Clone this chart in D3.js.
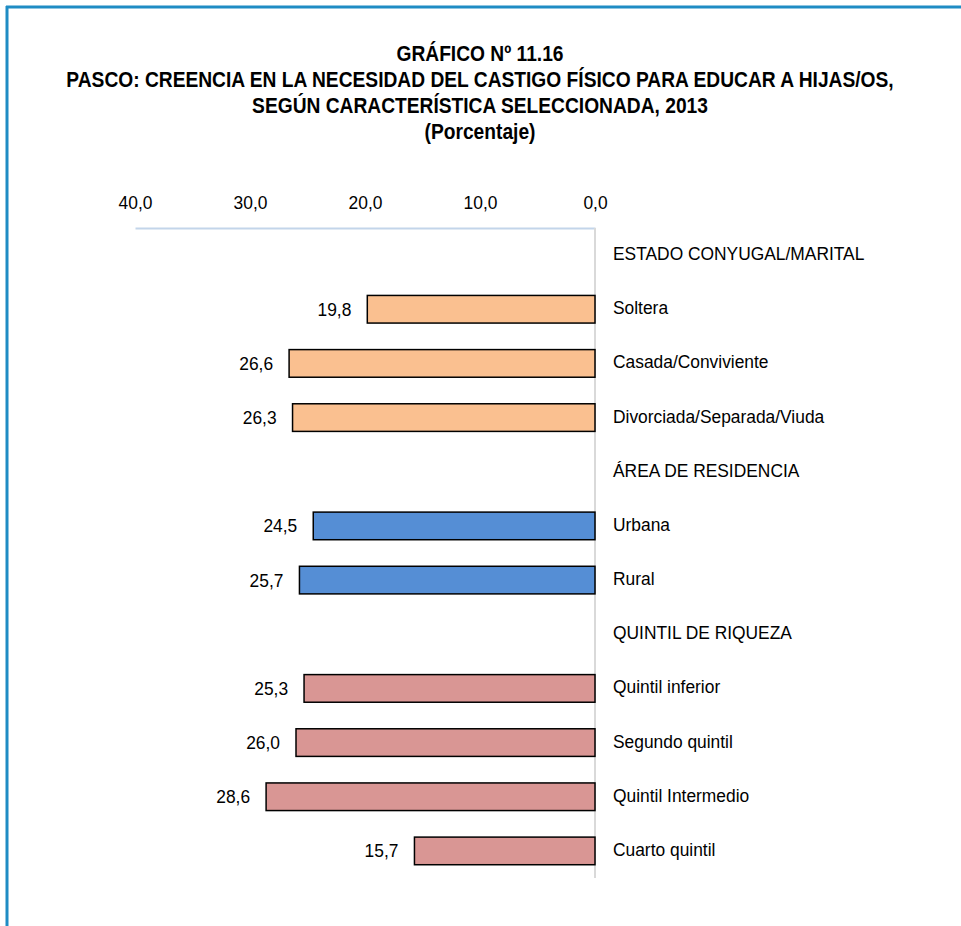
<!DOCTYPE html>
<html>
<head>
<meta charset="utf-8">
<script src="https://cdn.jsdelivr.net/npm/d3@7"></script>
<style>
  html, body { margin: 0; padding: 0; background: #fff; }
  svg { display: block; }
  text { font-family: "Liberation Sans", Arial, sans-serif; fill: #000; }
</style>
</head>
<body>
<script>
const titleLines = [
  "GRÁFICO Nº 11.16",
  "PASCO: CREENCIA EN LA NECESIDAD DEL CASTIGO FÍSICO PARA EDUCAR A HIJAS/OS,",
  "SEGÚN CARACTERÍSTICA SELECCIONADA, 2013",
  "(Porcentaje)"
];
const categories = [
  "ESTADO CONYUGAL/MARITAL", "Soltera", "Casada/Conviviente", "Divorciada/Separada/Viuda",
  "ÁREA DE RESIDENCIA", "Urbana", "Rural",
  "QUINTIL DE RIQUEZA", "Quintil inferior", "Segundo quintil", "Quintil Intermedio", "Cuarto quintil"
];
const values = [null, 19.8, 26.6, 26.3, null, 24.5, 25.7, null, 25.3, 26.0, 28.6, 15.7];
const groups = [null, "estado", "estado", "estado", null, "area", "area", null, "quintil", "quintil", "quintil", "quintil"];
const tickValues = [40, 30, 20, 10, 0];
const groupColors = { estado: "#fac090", area: "#558ed5", quintil: "#d99694" };

const W = 961, H = 926;
const TS = 0.873;  // title horizontal condensing
const LS = 0.94;   // label horizontal condensing
const svg = d3.select("body").append("svg").attr("width", W).attr("height", H);

// frame
svg.append("line").attr("x1", 7).attr("x2", 7).attr("y1", 6).attr("y2", H)
  .attr("stroke", "#1f8cc4").attr("stroke-width", 3);
svg.append("line").attr("x1", 6).attr("x2", W).attr("y1", 7).attr("y2", 7)
  .attr("stroke", "#1f8cc4").attr("stroke-width", 3);

// title
const titleY = [61, 87, 113, 139];
svg.selectAll("text.title").data(titleLines).join("text")
  .attr("class", "title")
  .attr("transform", (d, i) => `translate(480,${titleY[i]}) scale(${TS},1)`)
  .attr("text-anchor", "middle")
  .attr("font-weight", "bold")
  .attr("font-size", 22)
  .text(d => d);

const x = d3.scaleLinear().domain([0, 40]).range([595, 135]);
const y = d3.scaleBand().domain(categories).range([228, 878]).paddingInner(0.49).paddingOuter(0.245);

// top axis
const axis = d3.axisTop(x).tickValues(tickValues).tickSize(0).tickPadding(19)
  .tickFormat(d => d3.format(".1f")(d).replace(".", ","));
const gAx = svg.append("g").attr("transform", "translate(0,228)").call(axis);
gAx.select(".domain").attr("stroke", "#c3d5ea").attr("stroke-width", 2);
gAx.selectAll("text").attr("font-size", 18.5)
  .attr("transform", `scale(${LS},1)`)
  .style("font-family", '"Liberation Sans", Arial, sans-serif');

// vertical axis line
svg.append("line").attr("x1", x(0)).attr("x2", x(0)).attr("y1", 228).attr("y2", 878)
  .attr("stroke", "#d9d9d9").attr("stroke-width", 2);

const data = categories.map((c, i) => ({ c, v: values[i], g: groups[i] }));
const bars = data.filter(d => d.v !== null);

svg.selectAll("rect.bar").data(bars).join("rect")
  .attr("class", "bar")
  .attr("x", d => x(d.v)).attr("width", d => x(0) - x(d.v))
  .attr("y", d => y(d.c)).attr("height", y.bandwidth())
  .attr("fill", d => groupColors[d.g])
  .attr("stroke", "#000").attr("stroke-width", 1.5);

// value labels
svg.selectAll("text.val").data(bars).join("text")
  .attr("class", "val")
  .attr("transform", d => `translate(${x(d.v) - 16},${y(d.c) + y.bandwidth() / 2}) scale(${LS},1)`)
  .attr("dy", "0.35em")
  .attr("text-anchor", "end")
  .attr("font-size", 18.5)
  .text(d => d3.format(".1f")(d.v).replace(".", ","));

// category labels
svg.selectAll("text.cat").data(data).join("text")
  .attr("class", "cat")
  .attr("transform", d => `translate(${x(0) + 18},${y(d.c) + y.bandwidth() / 2 - 1.5}) scale(${LS},1)`)
  .attr("dy", "0.35em")
  .attr("font-size", 18.5)
  .text(d => d.c);
</script>
</body>
</html>
